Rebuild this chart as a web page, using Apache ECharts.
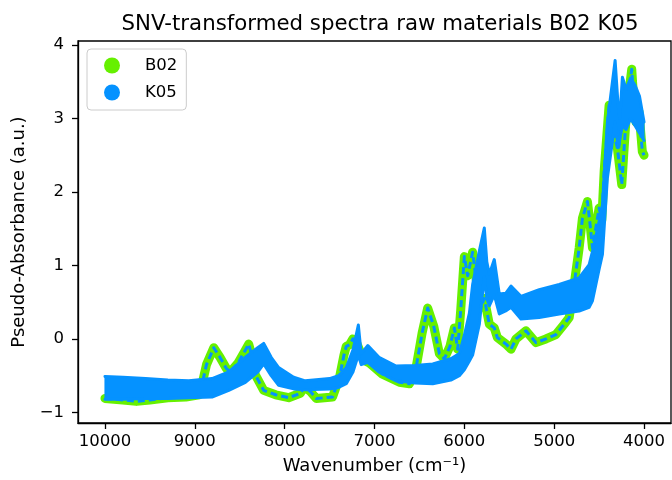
<!DOCTYPE html>
<html>
<head>
<meta charset="utf-8">
<script src="https://cdn.jsdelivr.net/npm/echarts@6/dist/echarts.min.js"></script>
<style>
  html, body { margin: 0; padding: 0; background: #fff; }
  #chart { width: 672px; height: 480px; }
</style>
</head>
<body>
<div id="chart"></div>
<script>
// B02: center (dashed) spectrum
const b02Wn = [10000, 9900, 9800, 9650, 9500, 9300, 9100, 8950, 8920, 8870, 8789, 8720, 8650, 8603, 8520, 8450, 8400, 8360, 8326, 8233, 8100, 7956, 7826, 7778, 7710, 7648, 7467, 7389, 7340, 7314, 7278, 7241, 7200, 7150, 7100, 7056, 6911, 6722, 6611, 6537, 6470, 6408, 6340, 6278, 6222, 6160, 6111, 6074, 6040, 6000, 5963, 5908, 5870, 5814, 5778, 5722, 5667, 5633, 5537, 5481, 5426, 5314, 5203, 5092, 4981, 4889, 4833, 4778, 4722, 4686, 4630, 4600, 4574, 4500, 4470, 4444, 4389, 4359, 4297, 4248, 4203, 4186, 4137, 4111, 4089, 4056, 4019, 4000];
const b02Val = [-0.81, -0.82, -0.83, -0.85, -0.83, -0.80, -0.79, -0.76, -0.62, -0.35, -0.12, -0.25, -0.40, -0.45, -0.33, -0.18, -0.07, -0.25, -0.49, -0.70, -0.76, -0.80, -0.74, -0.65, -0.72, -0.81, -0.79, -0.52, -0.22, -0.10, -0.08, 0.00, -0.05, -0.20, -0.30, -0.33, -0.48, -0.59, -0.61, -0.39, 0.08, 0.42, 0.17, -0.20, -0.27, -0.10, 0.15, -0.14, 0.40, 1.12, 0.86, 1.18, 0.82, 0.43, 0.55, 0.20, 0.15, 0.02, -0.07, -0.14, 0.00, 0.11, -0.05, 0.00, 0.06, 0.20, 0.29, 0.74, 1.24, 1.64, 1.87, 1.55, 1.24, 1.78, 1.62, 2.28, 3.18, 2.90, 2.60, 2.10, 2.95, 3.18, 3.67, 3.18, 2.95, 3.09, 2.55, 2.50];

// K05: upper and lower edge of the bundle
const k05Wn = [10000, 9800, 9548, 9300, 9067, 8808, 8622, 8437, 8300, 8233, 8150, 8067, 7900, 7770, 7500, 7400, 7314, 7240, 7180, 7148, 7074, 6950, 6759, 6550, 6352, 6150, 6056, 6000, 5944, 5908, 5833, 5778, 5750, 5722, 5667, 5611, 5540, 5481, 5370, 5167, 4944, 4722, 4611, 4574, 4500, 4463, 4408, 4322, 4290, 4270, 4241, 4200, 4150, 4100, 4050, 4000];
const k05Hi = [-0.51, -0.52, -0.54, -0.56, -0.57, -0.54, -0.45, -0.25, -0.12, -0.06, -0.25, -0.39, -0.52, -0.57, -0.54, -0.50, -0.39, -0.15, 0.19, -0.20, -0.09, -0.25, -0.37, -0.36, -0.34, -0.27, -0.20, 0.05, 0.35, 0.74, 1.20, 1.51, 1.05, 0.88, 1.08, 0.61, 0.62, 0.72, 0.58, 0.67, 0.74, 0.83, 1.01, 1.19, 1.60, 1.82, 2.95, 3.79, 3.20, 3.00, 3.56, 3.40, 3.55, 3.45, 3.30, 2.95];
const k05Lo = [-0.82, -0.82, -0.81, -0.81, -0.80, -0.79, -0.70, -0.59, -0.45, -0.34, -0.50, -0.63, -0.68, -0.69, -0.68, -0.66, -0.61, -0.45, -0.22, -0.35, -0.32, -0.45, -0.57, -0.60, -0.61, -0.56, -0.50, -0.42, -0.30, -0.22, 0.20, 0.85, 0.55, 0.45, 0.60, 0.34, 0.38, 0.43, 0.27, 0.29, 0.34, 0.38, 0.43, 0.52, 0.95, 1.15, 2.19, 2.95, 2.60, 2.60, 2.90, 2.85, 3.00, 2.90, 2.80, 2.70];

const xTicks = [10000, 9000, 8000, 7000, 6000, 5000, 4000];
const yTicks = [-1, 0, 1, 2, 3, 4];

const GREEN = '#66f000';
const BLUE = '#0592ff';
const FONT = 'DejaVu Sans';

const chart = echarts.init(document.getElementById('chart'));

// filled band between the lower and upper K05 edges
function renderBand(params, api) {
  const top = k05Wn.map((w, i) => api.coord([w, k05Hi[i]]));
  const bottom = k05Wn.map((w, i) => api.coord([w, k05Lo[i]])).reverse();
  return {
    type: 'polygon',
    shape: { points: top.concat(bottom) },
    style: { fill: BLUE, stroke: BLUE, lineWidth: 1 }
  };
}

const edgeLine = (name, ys) => ({
  name: name,
  type: 'line',
  showSymbol: false,
  symbol: 'none',
  z: 4,
  lineStyle: { color: BLUE, width: 3, cap: 'round', join: 'round' },
  itemStyle: { color: BLUE },
  data: k05Wn.map((w, i) => [w, ys[i]])
});

const option = {
  animation: false,
  backgroundColor: '#fff',
  title: {
    text: 'SNV-transformed spectra raw materials B02 K05',
    left: 375,
    top: 9,
    textAlign: 'center',
    textStyle: { fontFamily: FONT, fontSize: 21.3, fontWeight: 'normal', color: '#000' }
  },
  legend: {
    orient: 'vertical',
    left: 87,
    top: 49,
    padding: [8, 9, 9, 17],
    itemWidth: 16,
    itemHeight: 16,
    itemGap: 10,
    borderColor: '#cccccc',
    borderWidth: 1,
    borderRadius: 4,
    backgroundColor: 'rgba(255,255,255,0.8)',
    textStyle: { fontFamily: FONT, fontSize: 16.5, color: '#000', lineHeight: 16, padding: [0, 0, 0, 20] },
    data: [
      { name: 'B02', icon: 'circle', itemStyle: { color: GREEN } },
      { name: 'K05', icon: 'circle', itemStyle: { color: BLUE } }
    ]
  },
  grid: {
    left: 78, right: 1, top: 41, bottom: 53,
    show: true, borderColor: '#000', borderWidth: 1.3
  },
  xAxis: {
    type: 'value',
    inverse: true,
    min: 3700,
    max: 10300,
    name: 'Wavenumber (cm⁻¹)',
    nameLocation: 'middle',
    nameGap: 34,
    nameTextStyle: { fontFamily: FONT, fontSize: 18, color: '#000' },
    splitLine: { show: false },
    axisLine: { show: true, onZero: false, lineStyle: { color: '#000', width: 1.3 } },
    axisTick: { show: true, length: 6, customValues: xTicks, lineStyle: { color: '#000', width: 1.3 } },
    axisLabel: {
      customValues: xTicks, margin: 10, fontFamily: FONT, fontSize: 16.5, color: '#000',
      formatter: v => String(v)
    }
  },
  yAxis: {
    type: 'value',
    min: -1.144,
    max: 4.054,
    name: 'Pseudo-Absorbance (a.u.)',
    nameLocation: 'middle',
    nameGap: 41,
    nameTextStyle: { fontFamily: FONT, fontSize: 18, color: '#000' },
    splitLine: { show: false },
    axisLine: { show: true, onZero: false, lineStyle: { color: '#000', width: 1.3 } },
    axisTick: { show: true, length: 6, customValues: yTicks, lineStyle: { color: '#000', width: 1.3 } },
    axisLabel: {
      customValues: yTicks, margin: 14, fontFamily: FONT, fontSize: 16.5, color: '#000',
      formatter: v => String(v).replace('-', '\u2212')
    }
  },
  series: [
    {
      name: 'B02',
      type: 'line',
      showSymbol: false,
      symbol: 'none',
      z: 2,
      lineStyle: { color: GREEN, width: 9, cap: 'round', join: 'round' },
      itemStyle: { color: GREEN },
      data: b02Wn.map((w, i) => [w, b02Val[i]])
    },
    {
      name: 'B02 mean',
      type: 'line',
      showSymbol: false,
      symbol: 'none',
      z: 3,
      lineStyle: { color: BLUE, width: 3, type: [7, 4], join: 'round' },
      data: b02Wn.map((w, i) => [w, b02Val[i]])
    },
    {
      name: 'K05',
      type: 'custom',
      z: 4,
      clip: true,
      renderItem: renderBand,
      itemStyle: { color: BLUE },
      data: [[k05Wn[0], k05Hi[0]]]
    },
    edgeLine('K05', k05Hi),
    edgeLine('K05', k05Lo)
  ]
};

chart.setOption(option);
</script>
</body>
</html>
